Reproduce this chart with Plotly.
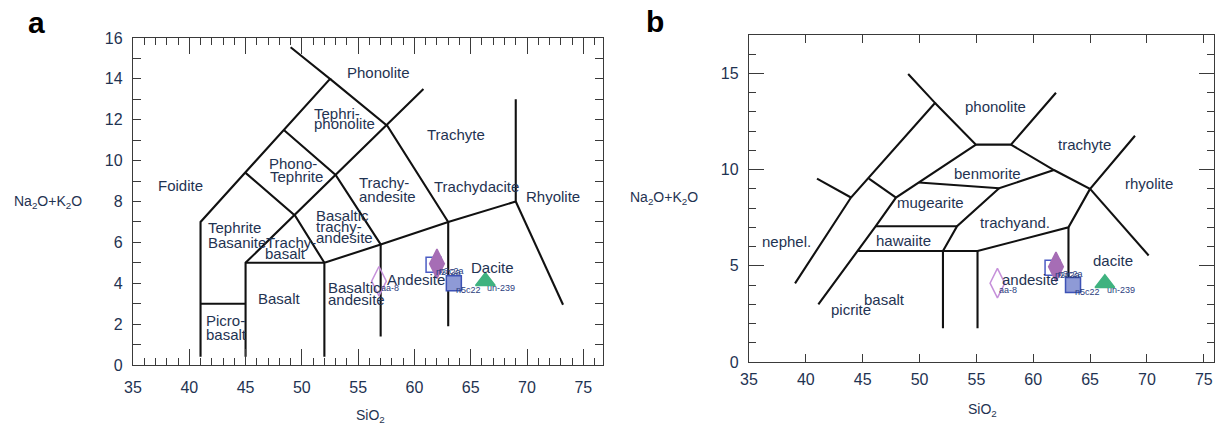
import plotly.graph_objects as go

W, H = 1217, 427
FONT = "Liberation Sans, Arial, sans-serif"
TXT = "#1f3352"
LINE = "#111111"
FRAME = "#3a3a3a"

# ---------------- samples (same samples on both diagrams) ----------------
sample_names = ["n2c2a", "n3c2a", "n5c22", "un-239", "aa-8"]
sample_sio2 = [61.7, 62.0, 63.5, 66.3, 56.85]
sample_alk = [4.9, 4.95, 4.0, 4.1, 4.1]
sample_symbols = ["square-open", "diamond-tall", "square", "triangle-up", "diamond-tall-open"]
sample_fill = ["#4b5cc4", "#a66db5", "#8e9ad6", "#3fb27f", "#c690da"]
sample_edge = ["#4b5cc4", "#a66db5", "#3d52b5", "#3fb27f", "#c690da"]
sample_size = [15, 21, 15, 17, 21]

# ---------------- panel a: TAS (Le Bas et al.) boundaries ----------------
a_lines = [
    [(41, 0.4), (41, 7), (52.5, 14), (49.0, 15.55)],
    [(45, 0.4), (45, 5), (60.8, 13.5)],
    [(52, 0.4), (52, 5), (57, 5.9), (63, 7), (69, 8), (69, 13)],
    [(69, 8), (73.2, 2.95)],
    [(57, 1.4), (57, 5.9), (53, 9.3), (48.4, 11.5)],
    [(63, 1.9), (63, 7), (57.6, 11.7), (52.5, 14)],
    [(41, 3), (45, 3)],
    [(45, 5), (52, 5)],
    [(45, 9.4), (49.4, 7.3), (52, 5)],
]
a_label_text = ["Phonolite", "Tephri-", "phonolite", "Trachyte", "Trachydacite", "Rhyolite",
                "Trachy-", "andesite", "Phono-", "Tephrite", "Foidite", "Tephrite", "Basanite",
                "Trachy-", "basalt", "Basaltic", "trachy-", "andesite", "Basalt", "Picro-", "basalt",
                "Basaltic", "andesite", "Andesite", "Dacite"]
a_label_x = [56.8, 51.0, 51.0, 63.7, 65.5, 72.3,
             55.0, 55.0, 47.0, 47.1, 39.2, 41.6, 41.6,
             46.7, 46.6, 51.2, 51.2, 51.2, 48.0, 41.4, 41.4,
             52.2, 52.2, 60.1, 66.9]
a_label_y = [14.3, 12.33, 11.8, 11.27, 8.73, 8.24,
             8.92, 8.26, 9.87, 9.24, 8.77, 6.72, 6.0,
             5.98, 5.44, 7.3, 6.76, 6.22, 3.24, 2.2, 1.47,
             3.77, 3.19, 4.2, 4.75]
a_label_anchor = ["center", "left", "left", "center", "center", "center",
                  "left", "left", "left", "left", "center", "left", "left",
                  "left", "left", "left", "left", "left", "center", "left", "left",
                  "left", "left", "center", "center"]

# ---------------- panel b: TAS (Cox et al.) boundaries ----------------
b_lines = [
    [(39.05, 4.09), (43.97, 8.55), (51.36, 13.47), (49.0, 14.97)],
    [(40.98, 9.53), (43.97, 8.55)],
    [(41.1, 3.0), (44.6, 5.77), (46.15, 7.06), (47.93, 8.55), (49.95, 9.33), (54.96, 11.3)],
    [(45.55, 9.53), (47.93, 8.55)],
    [(51.36, 13.47), (54.96, 11.3), (58.04, 11.3), (62.0, 14.0)],
    [(58.04, 11.3), (61.82, 9.98), (65.0, 9.0), (68.95, 11.76)],
    [(65.0, 9.0), (70.15, 5.54)],
    [(49.95, 9.33), (57.0, 9.03), (61.82, 9.98)],
    [(57.0, 9.03), (53.3, 7.06), (52.06, 5.77), (52.06, 1.76)],
    [(44.6, 5.77), (55.1, 5.77), (55.1, 1.76)],
    [(46.15, 7.06), (53.3, 7.06)],
    [(55.1, 5.77), (63.1, 7.0), (65.0, 9.0)],
    [(63.1, 7.0), (63.1, 3.6)],
]
b_label_text = ["phonolite", "trachyte", "benmorite", "rhyolite", "mugearite", "trachyand.",
                "hawaiite", "nephel.", "basalt", "picrite", "andesite", "dacite"]
b_label_x = [56.7, 64.5, 56.0, 70.2, 51.0, 58.4, 48.6, 38.3, 46.9, 44.0, 59.8, 67.0]
b_label_y = [13.26, 11.3, 9.8, 9.3, 8.3, 7.27, 6.32, 6.28, 3.26, 2.75, 4.3, 5.28]

# axis ranges / ticks
a_xrange = [35, 76.75]
a_yrange = [0, 16]
b_xrange = [35, 75.9]
b_yrange = [0, 17]
x_ticks = [35, 40, 45, 50, 55, 60, 65, 70, 75]
a_y_ticks = [0, 2, 4, 6, 8, 10, 12, 14, 16]
a_y_long = [0, 5, 10, 15]
b_y_ticks = [0, 5, 10, 15]
b_x_long = [50, 75]


def flatten(lines):
    xs, ys = [], []
    for seg in lines:
        for (x, y) in seg:
            xs.append(x)
            ys.append(y)
        xs.append(None)
        ys.append(None)
    return xs, ys


fig = go.Figure()

for lines, xa, ya in [(a_lines, "x", "y"), (b_lines, "x2", "y2")]:
    xs, ys = flatten(lines)
    fig.add_trace(go.Scatter(x=xs, y=ys, mode="lines", xaxis=xa, yaxis=ya,
                             line=dict(color=LINE, width=2.1), hoverinfo="skip", showlegend=False))

for xa, ya in [("x", "y"), ("x2", "y2")]:
    for i in range(len(sample_names)):
        fig.add_trace(go.Scatter(
            x=[sample_sio2[i]], y=[sample_alk[i]], mode="markers", xaxis=xa, yaxis=ya,
            marker=dict(symbol=sample_symbols[i], size=sample_size[i], color=sample_fill[i],
                        line=dict(color=sample_edge[i], width=1.5)),
            name=sample_names[i], showlegend=False))

annotations = []
for t, x, y, anc in zip(a_label_text, a_label_x, a_label_y, a_label_anchor):
    annotations.append(dict(text=t, x=x, y=y, xref="x", yref="y", xanchor=anc, yanchor="middle",
                            showarrow=False, borderpad=0, font=dict(family=FONT, size=15, color=TXT)))
for t, x, y in zip(b_label_text, b_label_x, b_label_y):
    annotations.append(dict(text=t, x=x, y=y, xref="x2", yref="y2", xanchor="center", yanchor="middle",
                            showarrow=False, borderpad=0, font=dict(family=FONT, size=15, color=TXT)))
for xr, yr in [("x", "y"), ("x2", "y2")]:
    for i, nm in enumerate(sample_names):
        annotations.append(dict(text=nm, x=sample_sio2[i], y=sample_alk[i], xref=xr, yref=yr,
                                xanchor="left", yanchor="middle", xshift=1, yshift=-7,
                                showarrow=False, borderpad=0,
                                font=dict(family=FONT, size=9, color="#2c3d80")))

# axis titles and panel letters
for x, y in [(48 / W, 1 - 202 / H), (664 / W, 1 - 198 / H)]:
    annotations.append(dict(text="Na<sub>2</sub>O+K<sub>2</sub>O", x=x, y=y, xref="paper", yref="paper",
                            xanchor="center", yanchor="middle", showarrow=False,
                            font=dict(family=FONT, size=14, color=TXT)))
for x, y in [(370 / W, 1 - 416 / H), (982 / W, 1 - 410 / H)]:
    annotations.append(dict(text="SiO<sub>2</sub>", x=x, y=y, xref="paper", yref="paper",
                            xanchor="center", yanchor="middle", showarrow=False,
                            font=dict(family=FONT, size=14, color=TXT)))
for t, x, y in [("a", 36 / W, 1 - 22 / H), ("b", 655 / W, 1 - 21 / H)]:
    annotations.append(dict(text="<b>" + t + "</b>", x=x, y=y, xref="paper", yref="paper",
                            xanchor="center", yanchor="middle", showarrow=False,
                            font=dict(family="Liberation Sans, Arial", size=30, color="#000000")))

tickfont = dict(family=FONT, size=16, color=TXT)
common = dict(showgrid=False, zeroline=False, showline=True, linecolor=FRAME, linewidth=1.3,
              ticks="inside", tickcolor=FRAME, tickwidth=1.3, mirror="ticks", automargin=False)

a_dom_x = [133 / W, 603 / W]
a_dom_y = [1 - 365 / H, 1 - 38 / H]
b_dom_x = [749 / W, 1214 / W]
b_dom_y = [1 - 362 / H, 1 - 35 / H]

fig.update_layout(
    width=W, height=H, margin=dict(l=0, r=0, t=0, b=0, autoexpand=False),
    paper_bgcolor="white", plot_bgcolor="white",
    annotations=annotations, showlegend=False,
    xaxis=dict(domain=a_dom_x, anchor="y", range=a_xrange, tickmode="array", tickvals=x_ticks,
               ticklen=16, tickfont=tickfont, ticklabelstandoff=8,
               minor=dict(dtick=1, tick0=35, ticklen=7, ticks="inside", tickcolor=FRAME, tickwidth=1.3),
               **common),
    yaxis=dict(domain=a_dom_y, anchor="x", range=a_yrange, tickmode="array", tickvals=a_y_ticks,
               ticklen=8, tickfont=tickfont, ticklabelstandoff=6,
               minor=dict(dtick=1, tick0=0, ticklen=8, ticks="inside", tickcolor=FRAME, tickwidth=1.3),
               **common),
    yaxis3=dict(overlaying="y", anchor="x", range=a_yrange, tickmode="array", tickvals=a_y_long,
                ticklen=16, showticklabels=False, showgrid=False, zeroline=False, showline=False,
                ticks="inside", tickcolor=FRAME, tickwidth=1.3, mirror="ticks", automargin=False),
    xaxis2=dict(domain=b_dom_x, anchor="y2", range=b_xrange, tickmode="array", tickvals=x_ticks,
                ticklen=8, tickfont=tickfont, ticklabelstandoff=3, **common),
    xaxis4=dict(overlaying="x2", anchor="y2", range=b_xrange, tickmode="array", tickvals=b_x_long,
                ticklen=17, showticklabels=False, showgrid=False, zeroline=False, showline=False,
                ticks="inside", tickcolor=FRAME, tickwidth=1.3, mirror="ticks", automargin=False),
    yaxis2=dict(domain=b_dom_y, anchor="x2", range=b_yrange, tickmode="array", tickvals=b_y_ticks,
                ticklen=15, tickfont=tickfont, ticklabelstandoff=6,
                minor=dict(dtick=1, tick0=0, ticklen=7, ticks="inside", tickcolor=FRAME, tickwidth=1.3),
                **common),
)

fig.write_html("out.html")
